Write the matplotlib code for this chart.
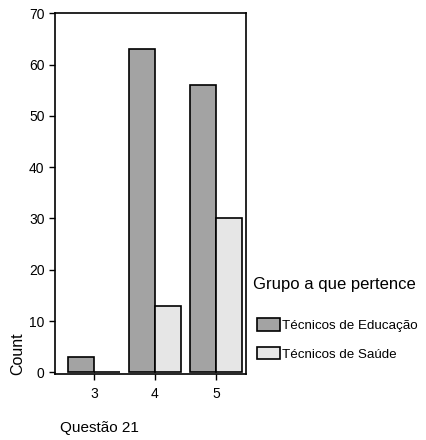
import matplotlib
matplotlib.use("Agg")
import matplotlib.pyplot as plt
import numpy as np

plt.rcParams['font.family'] = ['Liberation Sans', 'DejaVu Sans']

# Questão 21 answers per group
categories = [3, 4, 5]
educacao = [3, 63, 56]
saude = [0, 13, 30]
group_labels = ['Técnicos de Educação', 'Técnicos de Saúde']

fig = plt.figure(figsize=(4.26, 4.40), dpi=100)
ax = fig.add_axes([0.129, 0.15, 0.448, 0.82])

x = np.array(categories, dtype=float)
w = 0.43
b1 = ax.bar(x - w / 2, educacao, w, color='#a3a3a3', edgecolor='black', linewidth=1.2)
b2 = ax.bar(x + w / 2, saude, w, color='#e6e6e6', edgecolor='black', linewidth=1.2)

ax.set_xlim(2.36, 5.49)
ax.set_ylim(-0.3, 70)
ax.set_xticks(categories)
ax.set_yticks(range(0, 71, 10))
ax.tick_params(axis='both', labelsize=10, direction='out', length=4, width=1)
ax.tick_params(axis='x', pad=5)
for s in ax.spines.values():
    s.set_linewidth(1.2)

fig.text(0.042, 1 - 375 / 440, 'Count', rotation=90, ha='center', va='bottom', fontsize=11.5)
fig.text(60 / 426, 1 - 428 / 440, 'Questão 21', ha='left', va='center', fontsize=11)

# legend title drawn apart so the gap below it matches
fig.text(253 / 426, 1 - 285 / 440, 'Grupo a que pertence', ha='left', va='center', fontsize=12)
fig.legend([b1, b2], group_labels,
           loc='upper left', bbox_to_anchor=(257 / 426, 1 - 318 / 440),
           frameon=False, fontsize=9.6, borderpad=0, borderaxespad=0,
           handlelength=1.7, handleheight=1.1, handletextpad=0.2,
           labelspacing=1.1)

fig.savefig('out.png', dpi=100)
